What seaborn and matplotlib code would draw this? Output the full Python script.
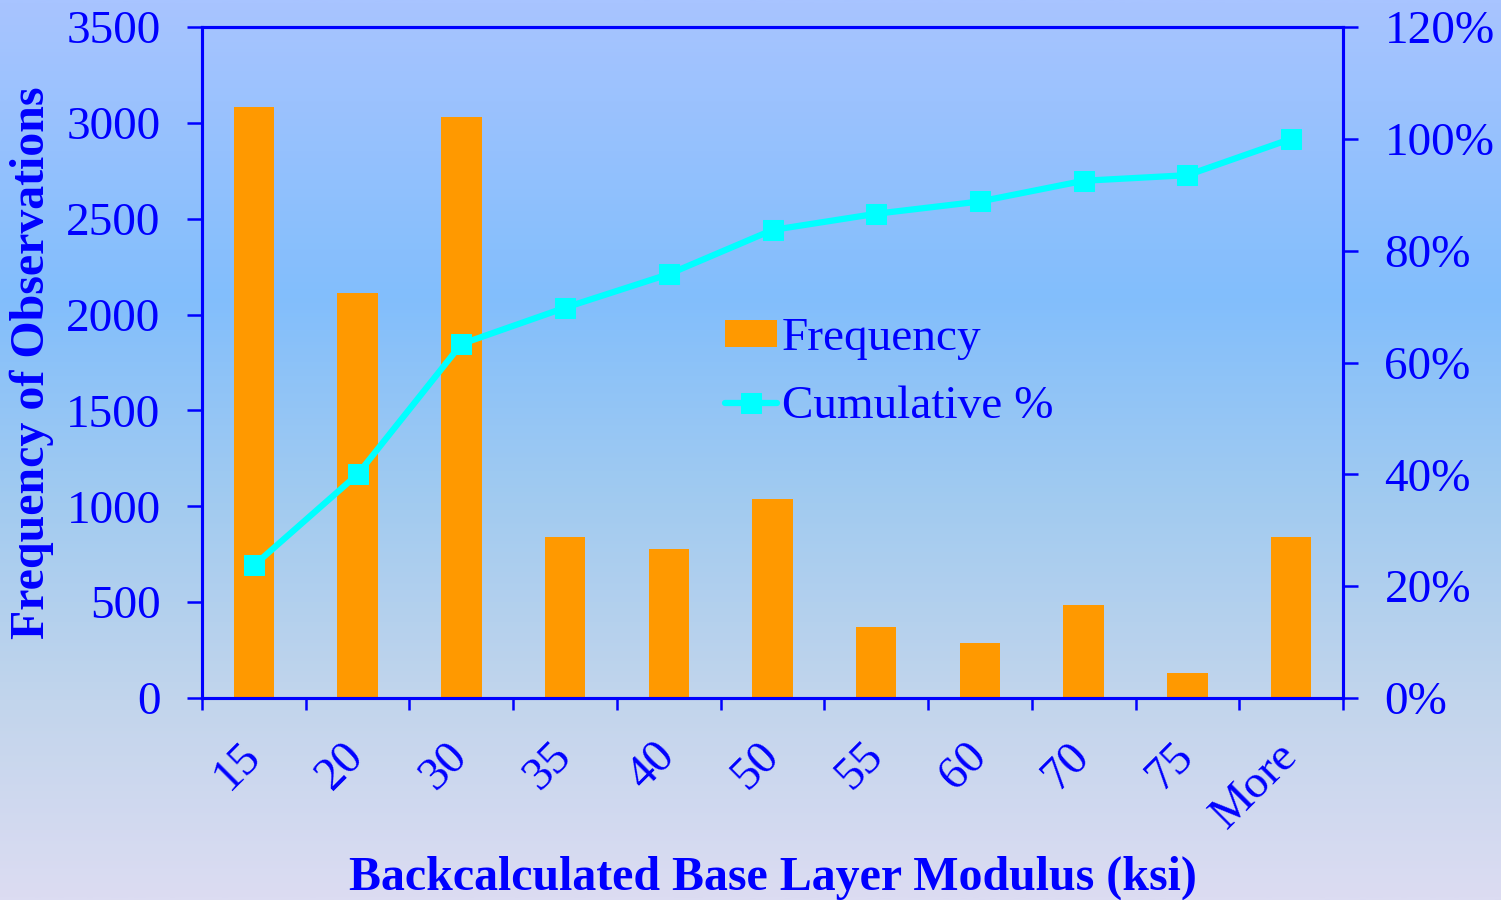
import numpy as np
import pandas as pd
import matplotlib
matplotlib.use("Agg")
import matplotlib.pyplot as plt
from matplotlib.colors import LinearSegmentedColormap
from matplotlib.ticker import PercentFormatter
import seaborn as sns

# Histogram of backcalculated base layer modulus
bins = ["15", "20", "30", "35", "40", "50", "55", "60", "70", "75", "More"]
frequency = [3085, 2110, 3030, 840, 777, 1038, 370, 287, 485, 130, 840]
cumulative_pct = [23.7, 40.0, 63.3, 69.8, 75.8, 83.7, 86.6, 88.8, 92.5, 93.5, 100.0]
freq_ticks = [0, 500, 1000, 1500, 2000, 2500, 3000, 3500]
pct_ticks = [0, 20, 40, 60, 80, 100, 120]

sns.set_style("ticks")
plt.rcParams["font.family"] = ["Liberation Serif", "DejaVu Serif"]

BLUE = "#0000ff"
ORANGE = "#ff9900"
CYAN = "#00ffff"
FS = 34

fig = plt.figure(figsize=(15.01, 9), dpi=100)

# vertical gradient backdrop
bg = fig.add_axes([0, 0, 1, 1], zorder=-10)
cmap = LinearSegmentedColormap.from_list(
    "backdrop",
    [(0.0, "#a8c4ff"), (0.33, "#82befc"), (0.56, "#a2cbf0"),
     (0.78, "#c2d5ec"), (1.0, "#dcdcf2")])
bg.imshow(np.linspace(0, 1, 512).reshape(-1, 1), aspect="auto", cmap=cmap,
          extent=[0, 1, 0, 1], origin="upper")
bg.axis("off")

ax = fig.add_axes([202 / 1501, 202 / 900, 1141 / 1501, 671 / 900])
ax.set_facecolor("none")

df = pd.DataFrame({"bin": bins, "frequency": frequency, "cumulative": cumulative_pct})
sns.barplot(data=df, x="bin", y="frequency", color=ORANGE, saturation=1,
            width=0.39, linewidth=0, edgecolor=ORANGE, ax=ax, label="Frequency")

ax2 = ax.twinx()
sns.lineplot(x=np.arange(len(bins)), y=df["cumulative"].to_numpy(), ax=ax2,
             color=CYAN, lw=4.5, marker="s", markersize=14.5,
             markeredgecolor=CYAN, markerfacecolor=CYAN, label="Cumulative %")

for a in (ax, ax2):
    leg = a.get_legend()
    if leg is not None:
        leg.remove()

ax.set_xlim(-0.5, len(bins) - 0.5)
ax.set_ylim(0, 3500)
ax2.set_ylim(0, 120)

# category labels at centres, tick marks at category boundaries
ax.set_xticks(np.arange(len(bins)))
ax.set_xticklabels(bins, rotation=45, ha="right", va="center",
                   rotation_mode="anchor", fontsize=FS, color=BLUE)
ax.set_xticks(np.arange(-0.5, len(bins), 1.0), minor=True)
ax.tick_params(axis="x", which="major", length=0, pad=37, bottom=True)
ax.tick_params(axis="x", which="minor", length=8.6, width=1.8, color=BLUE,
               direction="out", bottom=True)

ax.set_yticks(freq_ticks)
ax.tick_params(axis="y", length=10.8, width=1.8, colors=BLUE, labelsize=FS,
               pad=19, direction="out", left=True)
ax2.set_yticks(pct_ticks)
ax2.yaxis.set_major_formatter(PercentFormatter(decimals=0))
ax2.tick_params(axis="y", length=10.8, width=1.8, colors=BLUE, labelsize=FS,
                pad=19, direction="out", right=True)

for a in (ax, ax2):
    for s in a.spines.values():
        s.set_visible(True)
        s.set_color(BLUE)
        s.set_linewidth(2.2)

ax.set_xlabel("Backcalculated Base Layer Modulus (ksi)", fontsize=34.5,
              fontweight="bold", color=BLUE)
ax.xaxis.set_label_coords(0.5, -0.2355)
ax.set_ylabel("Frequency of Observations", fontsize=34.5, fontweight="bold",
              color=BLUE)
ax.yaxis.set_label_coords(-0.1295, 0.5)
ax2.set_ylabel("")

ax2.legend([ax.containers[0], ax2.lines[0]], ["Frequency", "Cumulative %"],
           loc="center left", bbox_to_anchor=(725 / 1501, 1 - 373 / 900),
           bbox_transform=fig.transFigure, frameon=False, fontsize=FS,
           labelcolor=BLUE, handlelength=1.1, handletextpad=0.1,
           borderpad=0, borderaxespad=0, labelspacing=0.53, handleheight=0.5)

fig.savefig("out.png", dpi=100)
